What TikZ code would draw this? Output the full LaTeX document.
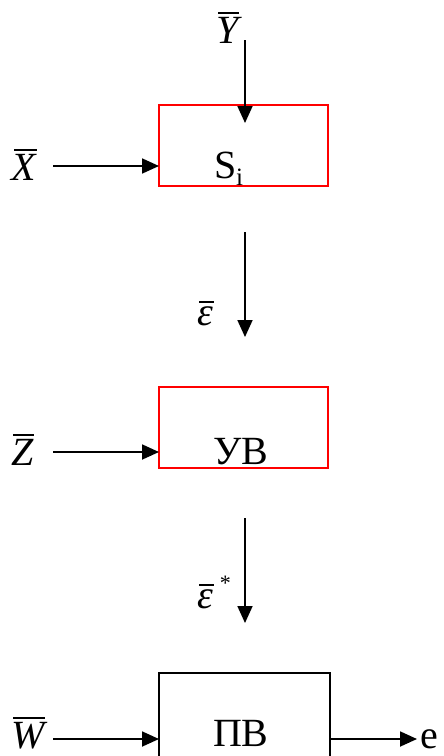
\documentclass[tikz,border=0pt]{standalone}
\usepackage{fontspec}
\setmainfont{Liberation Serif}
\usetikzlibrary{arrows.meta}
\newcommand\obar[1]{\setbox0\hbox{\itshape #1}\rlap{\raisebox{\dimexpr\ht0+3pt\relax}{\hspace{2pt}\rule{\dimexpr\wd0-1pt\relax}{1.7pt}}}\box0}
\begin{document}
\begin{tikzpicture}[x=1pt,y=-1pt,
  every node/.style={font=\fontsize{40}{48}\selectfont, inner sep=0pt, outer sep=0pt},
  redbox/.style={draw=red, line width=1.3pt, minimum width=169pt, minimum height=81pt, anchor=north west},
  blackbox/.style={draw=black, line width=1.6pt, minimum width=171pt, minimum height=110pt, anchor=north west},
  txt/.style={anchor=base west},
  arr/.style={line width=1.8pt, -{Triangle[length=17pt,width=15pt]}}]
\useasboundingbox (0,0) rectangle (444,756);
\clip (0,0) rectangle (444,756);
% boxes
\node[redbox] (s1) at (159,105) {};
\node[redbox] (s2) at (159,387) {};
\node[blackbox] (s3) at (159,673) {};
% box texts
\node[txt] (t1) at (214,178) {S\raisebox{-7pt}{\fontsize{25}{25}\selectfont i}};
\node[txt] (t2) at (213,464) {УВ};
\node[txt] (t3) at (213,746) {ПВ};
% labels
\node[txt] (xl) at (12,180) {\obar{X}};
\node[txt] (yl) at (216,43) {\obar{Y}};
\node[txt] (zl) at (11,465) {\obar{Z}};
\node[txt] (el) at (197,325) {\obar{ε}};
\node[txt] (esl) at (197,608) {\obar{ε}\hspace{7pt}\raisebox{18pt}{\fontsize{22}{22}\selectfont *}};
\node[txt] (wl) at (11,748) {\obar{W}};
\node[txt] (ol) at (420,748) {e};
% connector ends
\coordinate (xin) at (53,166);
\coordinate (yin) at (245,40);
\coordinate (yend) at (245,123);
\coordinate (ein) at (245,232);
\coordinate (eend) at (245,337);
\coordinate (esin) at (245,518);
\coordinate (esend) at (245,623);
\coordinate (zin) at (53,452);
\coordinate (win) at (53,739);
\coordinate (oend) at (417,739);
% connectors
\draw[arr] (xin) -- (xin -| s1.west);
\draw[arr] (yin) -- (yend);
\draw[arr] (ein) -- (eend);
\draw[arr] (zin) -- (zin -| s2.west);
\draw[arr] (esin) -- (esend);
\draw[arr] (win) -- (win -| s3.west);
\draw[arr] (win -| s3.east) -- (oend);
\end{tikzpicture}
\end{document}
